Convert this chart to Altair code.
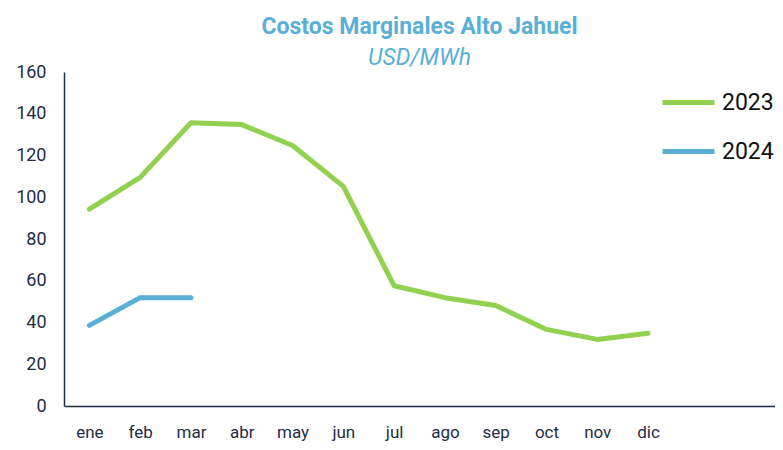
import altair as alt
import pandas as pd

months = ["ene", "feb", "mar", "abr", "may", "jun", "jul", "ago", "sep", "oct", "nov", "dic"]
extra_slots = ["_a", "_b"]
v2023 = [94.3, 109.5, 135.7, 134.8, 124.8, 105.2, 57.6, 51.9, 48.1, 36.7, 31.9, 34.8]
v2024 = [38.6, 51.9, 51.9]
series = ["2023", "2024"]
colors = ["#92D050", "#5AAFD5"]

rows = []
for m, v in zip(months, v2023):
    rows.append({"mes": m, "valor": v, "serie": "2023"})
for m, v in zip(months, v2024):
    rows.append({"mes": m, "valor": v, "serie": "2024"})
df = pd.DataFrame(rows)

chart = alt.Chart(df).mark_line(strokeWidth=5, strokeCap="round", strokeJoin="round").encode(
    x=alt.X("mes:N", sort=months + extra_slots,
            scale=alt.Scale(domain=months + extra_slots, paddingInner=0, paddingOuter=0),
            axis=alt.Axis(title=None, ticks=False, labelAngle=0, labelPadding=18,
                          labelFontSize=17, labelColor="#1F2D44", labelFont="Roboto",
                          domainColor="#1F2D44", domainWidth=1.5,
                          labelExpr="indexof(datum.label, '_') == 0 ? '' : datum.label")),
    y=alt.Y("valor:Q", scale=alt.Scale(domain=[0, 160]),
            axis=alt.Axis(title=None, ticks=False, grid=False, values=list(range(0, 161, 20)),
                          labelFontSize=18, labelColor="#1F2D44", labelPadding=18,
                          labelFont="Roboto", domainColor="#1F2D44", domainWidth=1.5)),
    color=alt.Color("serie:N", scale=alt.Scale(domain=series, range=colors),
                    legend=alt.Legend(title=None, orient="none", legendX=596, legendY=2,
                                      symbolType="stroke", symbolSize=2704, symbolStrokeWidth=5,
                                      labelFontSize=23, labelColor="#111111", labelFont="Roboto",
                                      rowPadding=8, labelOffset=5)),
).properties(
    width=711, height=334,
    autosize=alt.AutoSizeParams(type="none"),
    padding={"left": 56, "top": 64, "right": 0, "bottom": 36},
    title=alt.TitleParams(text="Costos Marginales Alto Jahuel", subtitle="USD/MWh",
                          anchor="middle", fontSize=23, fontWeight="bold", color="#5AAFD5",
                          font="Roboto", subtitleFont="Roboto", subtitleFontSize=23,
                          subtitleFontStyle="italic", subtitleFontWeight="normal",
                          subtitleColor="#5AAFD5", subtitlePadding=8, offset=-7),
).configure_view(stroke=None)

chart.save("out.html", embed_options={"renderer": "svg", "actions": False})
